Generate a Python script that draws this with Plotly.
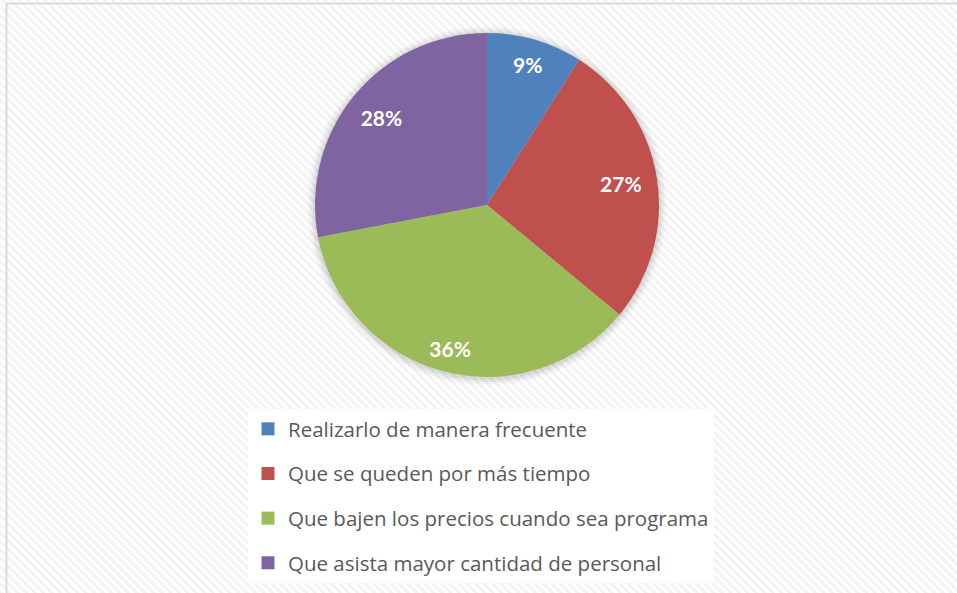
import base64
import plotly.graph_objects as go

categories = [
    "Realizarlo de manera frecuente",
    "Que se queden por más tiempo",
    "Que bajen los precios cuando sea programa",
    "Que asista mayor cantidad de personal",
]
values = [9, 27, 36, 28]
colors = ["#4F81BD", "#C0504D", "#9BBB59", "#8064A2"]

W, H = 957, 593

fig = go.Figure()

# pie geometry in pixels
cx, cy, r = 487, 205, 172
dom_x = [(cx - r) / W, (cx + r) / W]
dom_y = [1 - (cy + r) / H, 1 - (cy - r) / H]

fig.add_trace(go.Pie(
    labels=categories,
    values=values,
    sort=False,
    direction="clockwise",
    rotation=0,
    marker=dict(colors=colors, line=dict(width=0)),
    textinfo="none",
    showlegend=False,
    domain=dict(x=dom_x, y=dom_y),
    hoverinfo="label+percent",
))

# label carrier: same data, transparent, labels pushed out along each slice's mid-angle
label_pull = [0.678, 0.784, 0.960, 0.805]
D = 196
fig.add_trace(go.Pie(
    labels=categories,
    values=values,
    sort=False,
    direction="clockwise",
    rotation=0,
    pull=label_pull,
    marker=dict(colors=["rgba(0,0,0,0)"] * len(values), line=dict(width=0)),
    texttemplate="%{percent:.0%}",
    textposition="inside",
    insidetextorientation="horizontal",
    textfont=dict(family="Lato", size=21, color="white", weight="bold"),
    showlegend=False,
    domain=dict(x=[(cx - D) / W, (cx + D) / W],
                y=[1 - (cy + D) / H, 1 - (cy - D) / H]),
    hoverinfo="skip",
))

# legend entries
for i, (cat, col) in enumerate(zip(categories, colors)):
    fig.add_trace(go.Scatter(
        x=[None], y=[None], mode="markers", name=cat,
        marker=dict(symbol="square", size=13, color=col),
        legendgroup=f"g{i}", showlegend=True,
    ))

# diagonal hatch background
svg = (
    f'<svg xmlns="http://www.w3.org/2000/svg" width="{W}" height="{H}">'
    '<defs><pattern id="p" width="6" height="6" patternUnits="userSpaceOnUse" '
    'patternTransform="rotate(-45)"><rect width="6" height="6" fill="#ffffff"/>'
    '<rect width="3" height="6" fill="#f3f3f3"/></pattern></defs>'
    '<rect width="100%" height="100%" fill="url(#p)"/></svg>'
)
src = "data:image/svg+xml;base64," + base64.b64encode(svg.encode()).decode()

shapes = []
# soft shadow around the pie
for k, a in [(8, 0.02), (6, 0.03), (4, 0.04), (2, 0.05)]:
    shapes.append(dict(
        type="circle", xref="paper", yref="paper", layer="below",
        x0=(cx - r - k) / W, x1=(cx + r + k) / W,
        y0=1 - (cy + r + k + 1) / H, y1=1 - (cy - r - k + 1) / H,
        fillcolor=f"rgba(0,0,0,{a})", line=dict(width=0),
    ))
# chart border
shapes.append(dict(
    type="rect", xref="paper", yref="paper", layer="above",
    x0=6.5 / W, x1=1.05, y0=-0.05, y1=1 - 3.5 / H,
    line=dict(color="#d9d9d9", width=2), fillcolor="rgba(0,0,0,0)",
))

fig.update_layout(
    width=W, height=H,
    margin=dict(l=0, r=0, t=0, b=0),
    paper_bgcolor="white",
    plot_bgcolor="rgba(0,0,0,0)",
    xaxis=dict(visible=False),
    yaxis=dict(visible=False),
    images=[dict(source=src, xref="paper", yref="paper", x=0, y=1,
                 sizex=1, sizey=1, sizing="stretch", layer="below",
                 xanchor="left", yanchor="top")],
    shapes=shapes,
    legend=dict(
        x=248 / W, y=1 - 409 / H, xanchor="left", yanchor="top",
        bgcolor="white", borderwidth=0,
        font=dict(family="Open Sans", size=20.5, color="#595959"),
        tracegroupgap=15, itemwidth=30,
    ),
    showlegend=True,
)

fig.write_html("out.html", config={"displayModeBar": False},
               post_script="document.body.style.margin='0px';")
